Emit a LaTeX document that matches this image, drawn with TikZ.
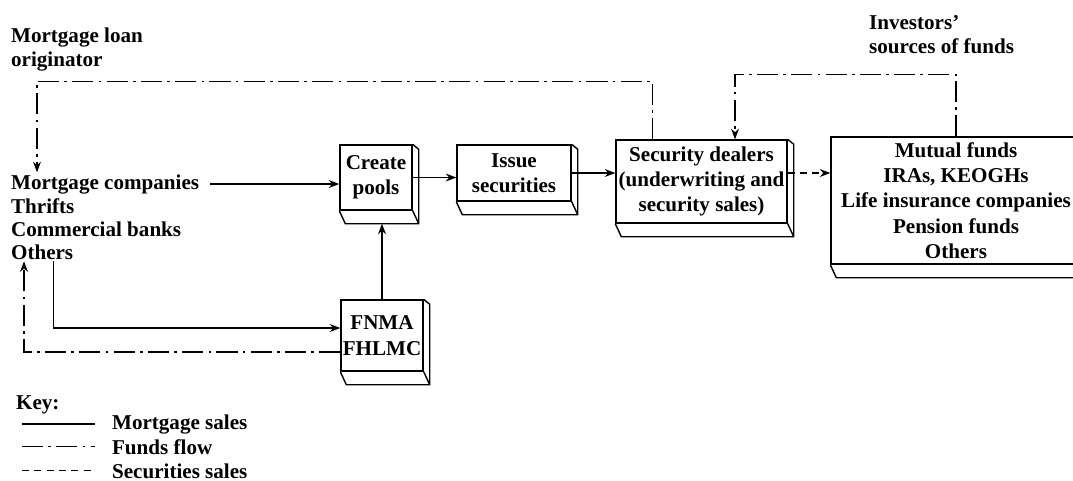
\documentclass[tikz,border=0pt]{standalone}
\usepackage{fontspec}
\setmainfont{Liberation Serif}
\usetikzlibrary{arrows.meta, positioning, calc}

\begin{document}
\begin{tikzpicture}[
    caja/.style={draw, line width=0.8pt, align=center, inner sep=1pt,
                 font=\fontsize{12}{14.4}\selectfont\bfseries},
    txt/.style={font=\fontsize{12}{13.6}\selectfont\bfseries, align=left, inner sep=1pt},
    fl/.style={-{Stealth[length=6pt,width=4.5pt]}, line width=0.7pt},
    fund/.style={dash pattern=on 12pt off 3pt on 1.5pt off 3pt},
    sec/.style={dash pattern=on 4pt off 3pt}]
  \useasboundingbox (0,0) rectangle (21.46,-9.6);
  % labels
  \node[txt, anchor=north west] (orig) at (0.18,-0.52) {Mortgage loan\\originator};
  \node[txt, anchor=north west] (inv)  at (17.34,-0.26) {Investors'\\sources of funds};
  \node[txt, anchor=base west] (mc)  at (0.18,-3.78) {Mortgage companies};
  \node[txt, anchor=base west] (thr) at (0.18,-4.26) {Thrifts};
  \node[txt, anchor=base west] (cb)  at (0.18,-4.72) {Commercial banks};
  \node[txt, anchor=base west] (oth) at (0.18,-5.18) {Others};
  % boxes
  \node[caja, minimum width=1.44cm, minimum height=1.3cm]  (pools)   at (7.52,-3.55)  {Create\\pools};
  \node[caja, minimum width=2.28cm, minimum height=1.12cm] (issue)   at (10.28,-3.46) {Issue\\securities};
  \node[caja, minimum width=3.42cm, minimum height=1.66cm] (dealers) at (14.03,-3.63) {Security dealers\\(underwriting and\\security sales)};
  \node[caja, minimum width=5cm, minimum height=2.54cm]    (funds)   at (19.12,-4.01) {Mutual funds\\IRAs, KEOGHs\\Life insurance companies\\Pension funds\\Others};
  \node[caja, minimum width=1.6cm, minimum height=1.42cm]  (fnma)    at (7.64,-6.71)  {FNMA\\FHLMC};
  \foreach \b in {pools,issue,dealers,funds,fnma}
    \draw[line width=0.8pt] (\b.north east) -- ++(0.12,-0.1) -- ($(\b.south east)+(0.12,-0.26)$)
      -- ($(\b.south west)+(0.12,-0.26)$) -- (\b.south west)
      (\b.south east) -- ++(0.12,-0.26);
  % mortgage sales
  \draw[fl] ([xshift=5pt]mc.east) -- (mc.east -| pools.west);
  \draw[fl] (pools.east) -- (pools.east -| issue.west);
  \draw[fl] (issue.east) -- (issue.east -| dealers.west);
  \draw[fl] (fnma.north) -- ($(fnma.north |- pools.south)+(0,-0.26)$);
  \draw[fl] ([xshift=-0.44cm]oth.south east) |- ([yshift=0.15cm]fnma.west);
  % securities sales
  \draw[fl, sec] ([yshift=0.17cm]dealers.east) -- ([yshift=0.17cm]dealers.east -| funds.west);
  % funds flow
  \draw[fl, fund] ([yshift=-0.33cm]fnma.west) -| ([xshift=0.3cm]oth.south west);
  \draw[fl, fund] ([xshift=0.74cm]dealers.north west) -- ++(0,1.16) -| ([xshift=0.56cm]mc.north west);
  \draw[fl, fund] (funds.north) -- ++(0,1.24) -| ([xshift=0.67cm]dealers.north);
  % key
  \node[txt, anchor=base west] (key) at (0.28,-8.18) {Key:};
  \node[txt, anchor=base west] (k1) at (2.2,-8.58) {Mortgage sales};
  \node[txt, anchor=base west] (k2) at (2.2,-9.08) {Funds flow};
  \node[txt, anchor=base west] (k3) at (2.2,-9.56) {Securities sales};
  \draw[fl, -] ([xshift=-1.76cm]k1.west) -- ([xshift=-0.3cm]k1.west);
  \draw[fl, -, fund] ([xshift=-1.76cm]k2.west) -- ([xshift=-0.3cm]k2.west);
  \draw[fl, -, sec] ([xshift=-1.76cm]k3.west) -- ([xshift=-0.3cm]k3.west);
\end{tikzpicture}
\end{document}
